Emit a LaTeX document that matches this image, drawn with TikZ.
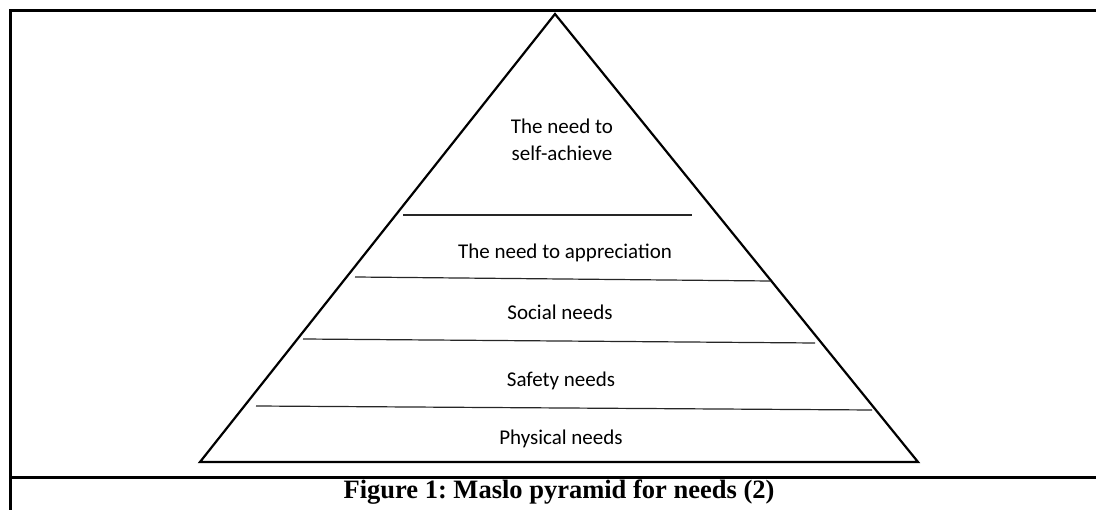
\documentclass[tikz,border=0pt]{standalone}
\usepackage{fontspec}
\setmainfont{Liberation Serif}
\newfontfamily\calfont{Carlito}
\frenchspacing
\begin{document}
\begin{tikzpicture}[x=1pt,y=-1pt,
  frame/.style={line width=3pt},
  tri/.style={line width=2.2pt, line join=miter},
  level/.style={line width=1.2pt, black!85},
  lbl/.style={font=\calfont\fontsize{21}{27}\selectfont, align=center, inner sep=0pt, anchor=base},
  captxt/.style={font=\bfseries\fontsize{26.5}{30}\selectfont, inner sep=0pt, anchor=base}]
\useasboundingbox (0,0) rectangle (1096,510);
% frame
\coordinate (fbl) at (10,511);
\coordinate (ftl) at (10,11);
\coordinate (ftr) at (1097,11);
\coordinate (sl) at (10,478);
\coordinate (sr) at (1097,478);
\draw[frame] (fbl) -- (ftl) -- (ftr);
\draw[frame] (sl) -- (sr);
% pyramid
\coordinate (apex) at (555,14);
\coordinate (bl) at (200,462);
\coordinate (br) at (918,462);
\draw[tri] (apex) -- (bl) -- (br) -- cycle;
% levels
\coordinate (a1) at (403,215); \coordinate (b1) at (692,215);
\coordinate (a2) at (355,277); \coordinate (b2) at (770,281);
\coordinate (a3) at (303,339); \coordinate (b3) at (815,343);
\coordinate (a4) at (256,406); \coordinate (b4) at (872,410);
\draw[level] (a1) -- (b1);
\draw[level] (a2) -- (b2);
\draw[level] (a3) -- (b3);
\draw[level] (a4) -- (b4);
% labels
\node[lbl] (t1) at (562,161) {The need to\\self-achieve};
\node[lbl] (t2) at (565,259) {The need to appreciation};
\node[lbl] (t3) at (560,320) {Social needs};
\node[lbl] (t4) at (561,387) {Safety needs};
\node[lbl] (t5) at (561,445) {Physical needs};
\node[captxt] (cap) at (559,499) {Figure 1: Maslo pyramid for needs (2)};
\end{tikzpicture}
\end{document}
